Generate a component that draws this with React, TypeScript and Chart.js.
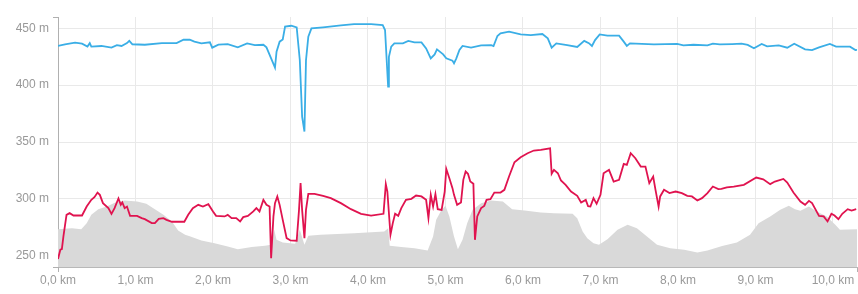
import React, { useEffect, useRef } from 'react';
import { Chart, registerables } from 'chart.js';

Chart.register(...registerables);

// Distance ticks (km) and elevation ticks (m)
const xTickValues = [0, 1, 2, 3, 4, 5, 6, 7, 8, 9, 10];
const yTickValues = [250, 300, 350, 400, 450];
const X_MIN = 0;
const X_MAX = 10.31;
const Y_MIN = 240;
const Y_MAX = 460;

// Blue series
const blueKm = [0.00,0.09,0.22,0.31,0.38,0.41,0.43,0.56,0.69,0.76,0.82,0.89,0.92,0.96,1.12,1.34,1.53,1.62,1.70,1.76,1.85,1.96,1.99,2.07,2.19,2.32,2.44,2.54,2.65,2.69,2.75,2.80,2.82,2.86,2.90,2.93,3.01,3.08,3.12,3.15,3.18,3.20,3.23,3.27,3.42,3.65,3.82,4.04,4.19,4.22,4.26,4.27,4.30,4.34,4.45,4.52,4.60,4.69,4.75,4.81,4.86,4.89,4.97,5.01,5.09,5.11,5.14,5.18,5.22,5.33,5.46,5.59,5.62,5.67,5.71,5.82,5.97,6.10,6.25,6.32,6.37,6.43,6.57,6.70,6.79,6.85,6.89,6.93,6.99,7.09,7.24,7.30,7.34,7.38,7.69,7.99,8.07,8.20,8.38,8.45,8.54,8.70,8.82,8.90,8.98,9.08,9.15,9.30,9.41,9.50,9.64,9.73,9.82,9.96,10.04,10.22,10.29,10.31];
const blueM = [434.5,436,437.4,436.5,434,437,434,434.5,433,435.3,434.5,437,439,436,435.6,437,437,440,440,438.3,436.8,437.7,433,435.6,436.2,433.3,436.8,435.3,435.6,433.3,423.6,415.4,429.5,438.3,440.3,451.5,452.3,450.9,422.2,372.4,359.2,422,442.7,450,450.9,452.6,453.8,453.8,452.9,448.5,398.7,425,433.9,436.8,436.8,438.9,437.7,437.7,432.4,423.6,427.1,431.5,427.1,423.6,421.6,419.2,423.6,431,434.5,433,435,435.3,434.5,443.3,445.6,447.1,444.7,444.1,445,441.2,433,436.8,435.3,433.6,439,437,434.5,439.7,444.7,443.6,443.6,438.3,434.6,436.8,435.9,436.4,435,435.6,435,436.6,435.9,436.2,436.5,435.5,432.5,436.3,434.2,435,433,436.5,431.6,430.9,433.3,436.3,433.9,433.9,430.9,431];

// Red series
const redKm = [0.00,0.03,0.05,0.07,0.11,0.15,0.20,0.31,0.37,0.43,0.47,0.51,0.54,0.58,0.65,0.69,0.73,0.78,0.81,0.83,0.86,0.89,0.93,1.02,1.08,1.12,1.21,1.25,1.30,1.36,1.40,1.47,1.63,1.68,1.74,1.81,1.87,1.94,2.00,2.04,2.15,2.19,2.24,2.30,2.35,2.39,2.45,2.52,2.56,2.60,2.65,2.69,2.73,2.75,2.78,2.80,2.83,2.86,2.90,2.95,3.00,3.08,3.11,3.13,3.15,3.18,3.20,3.23,3.31,3.42,3.52,3.65,3.78,3.91,4.04,4.20,4.23,4.25,4.29,4.32,4.35,4.39,4.43,4.49,4.56,4.62,4.69,4.75,4.78,4.81,4.84,4.87,4.90,4.95,4.99,5.01,5.05,5.09,5.11,5.15,5.20,5.23,5.26,5.29,5.32,5.36,5.38,5.41,5.46,5.50,5.53,5.58,5.63,5.71,5.76,5.82,5.89,5.97,6.06,6.14,6.23,6.35,6.37,6.40,6.45,6.49,6.55,6.62,6.70,6.75,6.81,6.84,6.87,6.91,6.95,7.00,7.04,7.11,7.17,7.24,7.30,7.34,7.39,7.45,7.52,7.58,7.63,7.68,7.71,7.75,7.77,7.82,7.89,7.97,8.05,8.12,8.18,8.25,8.31,8.38,8.45,8.52,8.56,8.63,8.72,8.85,9.01,9.10,9.19,9.25,9.36,9.41,9.49,9.58,9.64,9.69,9.73,9.82,9.88,9.93,9.98,10.02,10.07,10.12,10.19,10.24,10.30];
const redM = [247,255.2,255.7,266.9,285.9,287.4,285.3,285.3,293.2,299.1,301.4,305.5,303.5,296.2,291.8,286.8,291.8,300.3,294.7,296.8,291.8,293.2,285,285,283,282.1,278.6,278.6,282.4,283,281.5,279.8,279.8,285.9,291.8,294.7,293.2,295.3,288.9,285,284.5,285.9,283,283,280.1,283.9,285,288.9,291.8,288.9,299.1,294.7,293.2,247.8,284.5,296.2,302.1,294.7,281.5,265.4,263.4,263.1,290.3,313.8,290.3,265.4,290.3,304.4,304.4,302.6,300.6,296.2,290.9,286.8,285.3,286.8,312.9,306.4,268.3,278.6,286.8,285,291.8,299.1,300,302.9,302.1,299.1,283,303.5,293.2,304.1,290.9,290.3,306.4,326.4,318.1,309.4,303.5,294.7,296.8,316.7,324,322,315.2,313.2,263.9,284.5,291.8,293.8,299.1,299.7,305.5,305.5,307.9,319.6,332.2,336.6,340.1,342.5,343.1,344.5,322,325.5,322.5,316.1,312.3,306.4,302.6,296.8,299.1,293.5,293.2,300.6,295.6,303.5,322.5,325.5,315.2,316.7,330.7,329.8,340.1,335.7,328.4,328.4,313.8,319.6,307.9,293.2,302.1,307.9,305,306.4,305,302.6,302.1,298.5,300.6,305,310.8,308.5,308.8,310,310.8,312.3,318.7,317.2,312.9,315.2,317.5,314.3,305.5,297.6,294.7,298.2,296.2,285,284.5,280.1,286.8,285.3,282.1,286.8,290.9,289.7,290.9];

// Grey terrain area
const greyKm = [0.00,0.18,0.30,0.37,0.43,0.52,0.63,0.74,0.86,1.02,1.14,1.25,1.36,1.47,1.55,1.64,1.70,1.85,2.02,2.19,2.32,2.50,2.67,2.75,2.79,2.82,2.90,3.06,3.12,3.18,3.23,3.39,3.82,4.21,4.26,4.28,4.43,4.60,4.77,4.84,4.88,4.95,5.00,5.05,5.11,5.16,5.22,5.28,5.35,5.46,5.59,5.74,5.86,6.02,6.23,6.40,6.64,6.70,6.77,6.83,6.91,6.98,7.09,7.22,7.35,7.47,7.60,7.73,7.90,8.08,8.25,8.38,8.57,8.76,8.93,9.04,9.19,9.32,9.43,9.51,9.58,9.69,9.79,9.92,10.03,10.09,10.31];
const greyM = [273.3,274.2,273.3,278.6,285.9,290.9,293.2,296.8,298.5,297.6,295.6,290.9,285.9,280.1,272.2,268.3,267,263.4,261,258.1,255.7,257.5,258.7,259.6,272.8,264,261.6,260.4,272.8,259.6,267.5,268.3,269.8,271.3,274.2,258.7,257.5,256.6,254.6,266.9,281.5,290.3,293.8,284.5,266.9,255.7,264,278.6,290.3,296.2,298.5,297.6,290.9,289.7,287.9,287.4,286.8,283,271.3,265.4,261,259.6,264.5,272.8,277.1,274.2,266.9,259.6,256.6,255.2,252.8,254.6,258.5,261.6,268.3,278.6,284.5,290.3,293.8,290.9,289.4,293.2,288.9,284.5,277.1,272.8,273.3];

const toPoints = (xs: number[], ys: number[]) => xs.map((x, i) => ({ x, y: ys[i] }));
const fmtKm = (v: number) => v.toFixed(1).replace('.', ',') + ' km';

export default function App() {
  const ref = useRef<HTMLCanvasElement>(null);

  useEffect(() => {
    document.body.style.margin = '0';
    const font = { family: "'Liberation Sans', Arial, sans-serif", size: 12 };
    const isEdgeX = (v: number) => v === X_MIN || v === X_MAX;
    const isEdgeY = (v: number) => v === Y_MIN || v === Y_MAX;
    const chart = new Chart(ref.current!, {
      type: 'line',
      data: {
        datasets: [
          {
            data: toPoints(blueKm, blueM),
            borderColor: '#3aaee6',
            borderWidth: 1.8,
            pointRadius: 0,
            tension: 0,
            fill: false,
          },
          {
            data: toPoints(redKm, redM),
            borderColor: '#e0134f',
            borderWidth: 1.8,
            pointRadius: 0,
            tension: 0,
            fill: false,
          },
          {
            data: toPoints(greyKm, greyM),
            borderColor: 'rgba(0,0,0,0)',
            borderWidth: 0,
            backgroundColor: '#d9d9d9',
            pointRadius: 0,
            tension: 0,
            fill: 'start',
          },
        ],
      },
      options: {
        animation: false,
        responsive: false,
        devicePixelRatio: 1,
        layout: { padding: { top: 17, right: 1, left: 0, bottom: 0 } },
        plugins: { legend: { display: false }, tooltip: { enabled: false } },
        scales: {
          x: {
            type: 'linear',
            min: X_MIN,
            max: X_MAX,
            afterBuildTicks: (s: any) => {
              s.ticks = [...xTickValues, X_MAX].map((v) => ({ value: v }));
            },
            afterFit: (s: any) => {
              s.height = 27;
            },
            ticks: {
              autoSkip: false,
              maxRotation: 0,
              minRotation: 0,
              padding: 1,
              color: '#999999',
              font,
              callback: (v: any) => (xTickValues.includes(v) ? fmtKm(v) : ''),
            },
            grid: {
              color: (ctx: any) => (ctx.tick && isEdgeX(ctx.tick.value) ? 'rgba(0,0,0,0)' : '#e9e9e9'),
              tickColor: (ctx: any) => (ctx.tick && isEdgeX(ctx.tick.value) ? '#b0b0b0' : 'rgba(0,0,0,0)'),
              tickLength: 5,
              lineWidth: 1,
            },
            border: { color: '#b8b8b8', width: 1 },
          },
          y: {
            type: 'linear',
            min: Y_MIN,
            max: Y_MAX,
            afterBuildTicks: (s: any) => {
              s.ticks = [Y_MIN, ...yTickValues, Y_MAX].map((v) => ({ value: v }));
            },
            afterFit: (s: any) => {
              s.width = 58;
            },
            ticks: {
              autoSkip: false,
              padding: 4,
              color: '#999999',
              font,
              callback: (v: any) => (yTickValues.includes(v) ? v + ' m' : ''),
            },
            grid: {
              color: (ctx: any) => (ctx.tick && isEdgeY(ctx.tick.value) ? 'rgba(0,0,0,0)' : '#e9e9e9'),
              tickColor: (ctx: any) => (ctx.tick && isEdgeY(ctx.tick.value) ? '#b0b0b0' : 'rgba(0,0,0,0)'),
              tickLength: 5,
              lineWidth: 1,
            },
            border: { color: '#b0b0b0', width: 1 },
          },
        },
      },
    } as any);
    return () => chart.destroy();
  }, []);

  return <canvas ref={ref} width={858} height={294} style={{ display: 'block', width: 858, height: 294 }} />;
}
